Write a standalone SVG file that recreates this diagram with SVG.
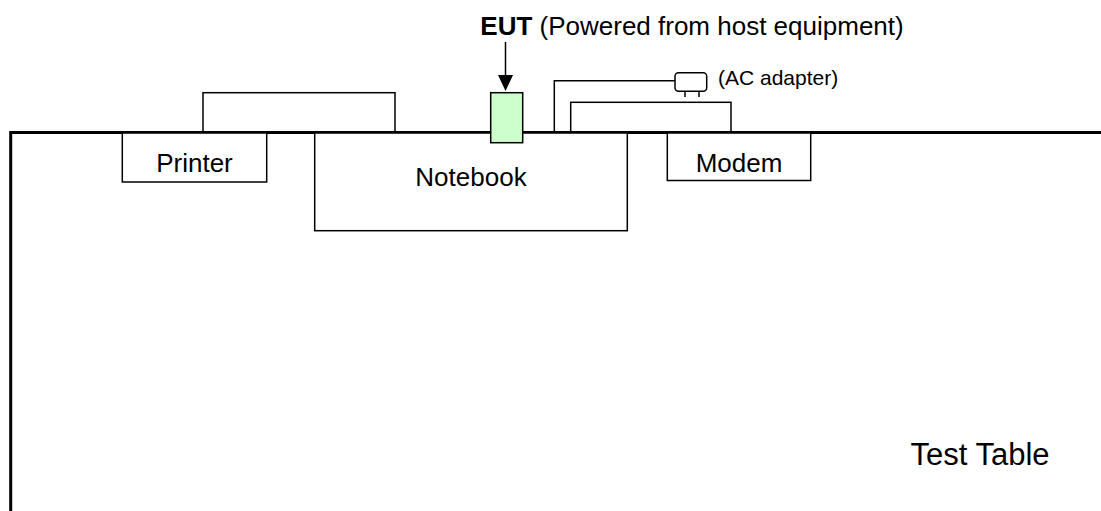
<svg xmlns="http://www.w3.org/2000/svg" width="1101" height="511" viewBox="0 0 1101 511">
<style>
.box{fill:#fff;stroke:#000;stroke-width:1.5}
.wire{fill:none;stroke:#000;stroke-width:1.5}
.t{font-family:"Liberation Sans",Arial,sans-serif;fill:#000}
</style>
<rect width="1101" height="511" fill="#fff"/>
<g id="connectors">
<rect class="box" x="203" y="92.7" width="192" height="39.8"/>
<rect class="box" x="570.7" y="102.3" width="160.3" height="30.2"/>
<polyline class="wire" points="554.3,132.5 554.3,80.7 675,80.7"/>
<line x1="505.5" y1="42" x2="505.5" y2="80" stroke="#000" stroke-width="1.5"/>
<path d="M498,75 L513,75 L505.5,91 Z" fill="#000"/>
</g>
<g id="test-table">
<path d="M10.7,511 V132.5 H1101" fill="none" stroke="#000" stroke-width="3"/>
<text class="t" x="910.5" y="465" font-size="31">Test Table</text>
</g>
<g id="printer">
<rect class="box" x="122.3" y="133" width="144.4" height="49"/>
<text class="t" x="194.5" y="172.3" font-size="26" text-anchor="middle">Printer</text>
</g>
<g id="notebook">
<rect class="box" x="314.7" y="133" width="312.6" height="97.7"/>
<text class="t" x="471" y="186" font-size="26" text-anchor="middle">Notebook</text>
</g>
<g id="modem">
<rect class="box" x="667.3" y="133" width="143.4" height="47.5"/>
<text class="t" x="739" y="172" font-size="26" text-anchor="middle">Modem</text>
</g>
<g id="eut">
<rect x="490.7" y="92.7" width="32" height="50" fill="#ccffcc" stroke="#000" stroke-width="1.5"/>
<text class="t" x="480.3" y="35" font-size="26"><tspan font-weight="bold">EUT</tspan> (Powered from host equipment)</text>
</g>
<g id="ac-adapter">
<rect class="box" x="675" y="72.7" width="31.7" height="18.6" rx="3.5"/>
<line x1="685" y1="91.3" x2="685" y2="97" stroke="#000" stroke-width="1.5"/>
<line x1="699" y1="91.3" x2="699" y2="97" stroke="#000" stroke-width="1.5"/>
<text class="t" x="718" y="85" font-size="21">(AC adapter)</text>
</g>
</svg>
